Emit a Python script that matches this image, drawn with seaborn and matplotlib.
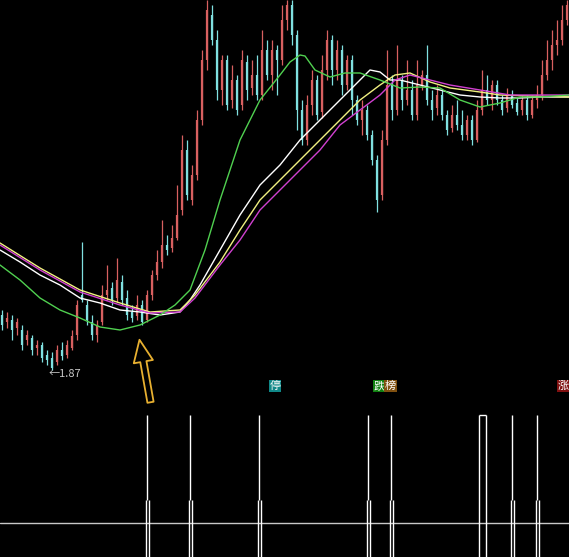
import numpy as np
import pandas as pd
import matplotlib
matplotlib.use("Agg")
import matplotlib.pyplot as plt
import seaborn as sns

# candles, in screen rows (price = (557 - row) / 100)
open_raw = [315,322,320,328,330,340,338,348,345,355,358,362,350,355,348,335,295,305,322,335,
            322,295,288,298,282,298,312,316,305,320,295,275,262,245,248,238,210,150,200,175,
            120,60,15,40,90,60,100,80,105,62,88,75,95,50,75,50,60,20,5,35,
            110,140,105,80,112,70,40,70,50,85,60,100,120,110,135,160,195,140,85,110,
            80,100,90,115,85,75,100,108,95,115,128,115,125,135,120,140,110,90,100,85,
            100,108,95,103,110,100,115,100,95,75,60,45,40,20]
close_raw = [325,318,330,322,345,335,350,345,358,360,368,350,356,345,336,305,300,320,335,325,
             295,290,300,280,300,315,318,305,322,295,275,262,245,250,238,215,150,195,175,120,
             60,10,40,90,60,105,80,110,60,90,75,95,50,75,50,60,20,5,35,110,
             140,105,80,115,70,40,70,50,85,60,100,120,110,135,160,200,140,85,110,80,
             100,90,115,85,75,100,110,95,115,130,115,125,135,120,140,110,90,100,85,100,
             110,95,105,112,100,115,100,95,75,60,45,40,20,5]
high_raw = [310,312,315,318,325,330,335,340,342,350,352,345,342,340,330,300,242,300,315,320,
            285,265,282,258,275,290,305,295,300,290,270,250,220,235,225,185,135,140,165,110,
            50,0,5,30,55,55,65,75,50,55,60,55,30,40,40,45,5,0,0,30,
            100,95,70,75,55,30,35,40,45,55,55,95,100,105,130,155,130,50,75,45,
            75,60,80,60,70,45,90,85,90,110,105,100,110,115,115,100,70,75,80,80,
            95,88,90,98,95,95,95,85,60,40,30,20,5,0]
low_raw = [330,328,340,335,350,345,355,355,362,365,370,365,360,358,350,340,302,325,340,342,
           325,300,305,302,305,320,322,320,325,322,300,280,268,255,252,240,215,200,205,180,
           125,70,45,100,105,110,108,115,110,100,95,100,100,80,90,95,65,30,45,130,
           145,145,115,120,118,80,85,80,95,90,115,125,135,140,165,212,200,145,120,115,
           110,105,120,120,90,105,120,115,120,135,132,130,140,140,145,142,115,105,110,105,
           115,112,108,115,115,120,118,108,100,80,70,55,45,25]

# moving-average lines sampled along the screen (column px, row px)
ma_x = {
    "white":   [0,20,40,60,80,100,120,140,160,180,190,200,220,240,260,280,300,320,340,360,370,380,390,400,420,440,460,480,500,520,540,569],
    "yellow":  [0,40,80,120,150,180,195,220,240,260,280,300,320,340,360,380,395,410,430,450,480,500,530,569],
    "magenta": [0,40,80,120,150,180,195,220,240,260,280,300,320,340,360,380,395,410,430,450,480,510,540,569],
    "green":   [0,20,40,60,80,100,120,140,160,175,190,205,220,240,260,280,290,300,305,315,330,345,360,380,400,420,440,460,480,500,520,540,569],
}
ma_y = {
    "white":   [250,262,275,285,298,303,310,312,315,312,300,285,250,215,185,165,140,120,100,80,70,72,80,80,85,90,95,97,98,98,97,97],
    "yellow":  [243,268,290,303,312,310,295,262,230,200,180,160,140,120,100,85,75,73,82,88,92,95,96,97],
    "magenta": [245,270,292,305,313,312,298,265,240,210,190,170,150,125,110,95,80,75,80,85,90,95,95,95],
    "green":   [265,280,298,310,318,327,330,325,315,305,290,250,200,140,100,75,62,55,56,70,77,73,73,80,88,87,88,100,107,103,97,97,95],
}
ma_colors = {"white": "#ffffff", "yellow": "#f0f080", "magenta": "#d040d0", "green": "#50d050"}

# signal panel: candle positions of the white spikes
signal_idx = [29, 37.6, 51.4, 73.2, 77.8, 102, 107]
box_idx = [95.4, 96.8]
signal_top = 142
signal_base = 57
base_line = 34

step = 5.0
n = len(close_raw)
idx = np.arange(n)
o = (557 - np.array(open_raw)) / 100
c = (557 - np.array(close_raw)) / 100
h = (557 - np.array(high_raw)) / 100
l = (557 - np.array(low_raw)) / 100

sns.set_style("dark", {"axes.facecolor": "black", "figure.facecolor": "black"})
plt.rcParams['font.family'] = ['Noto Sans CJK SC', 'DejaVu Sans']

fig = plt.figure(figsize=(5.69, 5.57), dpi=100, facecolor="black")
ax = fig.add_axes([0, 157 / 557, 1, 400 / 557])
ax2 = fig.add_axes([0, 0, 1, 157 / 557])
for a in (ax, ax2):
    a.set_facecolor("black")
    a.set_axis_off()
    a.set_xlim(-0.4, 569 / step - 0.4)

red, cyan = "#d86060", "#80e0e0"
for i in idx:
    col = red if c[i] >= o[i] else cyan
    ax.vlines(i, l[i], h[i], color=col, lw=0.9)
    ax.vlines(i, min(o[i], c[i]), max(o[i], c[i]), color=col, lw=1.6)

for name in ma_x:
    df = pd.DataFrame({"x": (np.array(ma_x[name]) - 2) / step,
                       "p": (557 - np.array(ma_y[name])) / 100})
    sns.lineplot(data=df, x="x", y="p", ax=ax, color=ma_colors[name], lw=1, sort=False)
ax.set_xlim(-0.4, 569 / step - 0.4)
ax.set_ylim(1.57, 5.57)
ax.set_axis_off()

ax.text(9.4, 1.83, "←1.87", color="#c8c8c8", fontsize=8, va="center")
ax.annotate("", xy=(27.4, 2.2), xytext=(29.8, 1.52), annotation_clip=False,
            arrowprops=dict(arrowstyle="simple,head_width=1.4,head_length=1.6,tail_width=0.45",
                            fc="black", ec="#e8b030", lw=1.3))
ax.text(53.5, 1.71, "停", color="white", fontsize=8, va="center",
        bbox=dict(fc="#108888", ec="none", pad=0.5), clip_on=False)
ax.text(74.4, 1.71, "跌", color="white", fontsize=8, va="center",
        bbox=dict(fc="#108010", ec="none", pad=0.5), clip_on=False)
ax.text(76.6, 1.71, "榜", color="white", fontsize=8, va="center",
        bbox=dict(fc="#805010", ec="none", pad=0.5), clip_on=False)
ax.text(111.2, 1.71, "涨", color="white", fontsize=8, va="center",
        bbox=dict(fc="#801010", ec="none", pad=0.5), clip_on=False)

ax2.set_ylim(0, 157)
ax2.axhline(base_line, color="#c8c8c8", lw=1)
for s in signal_idx:
    ax2.vlines(s, signal_base, signal_top, color="white", lw=1)
    ax2.vlines([s - 0.3, s + 0.3], 0, signal_base, color="white", lw=1)
ax2.vlines(box_idx, 0, signal_top, color="white", lw=1)
ax2.hlines(signal_top, box_idx[0], box_idx[1], color="white", lw=1)

fig.savefig("out.png", dpi=100, facecolor="black")
